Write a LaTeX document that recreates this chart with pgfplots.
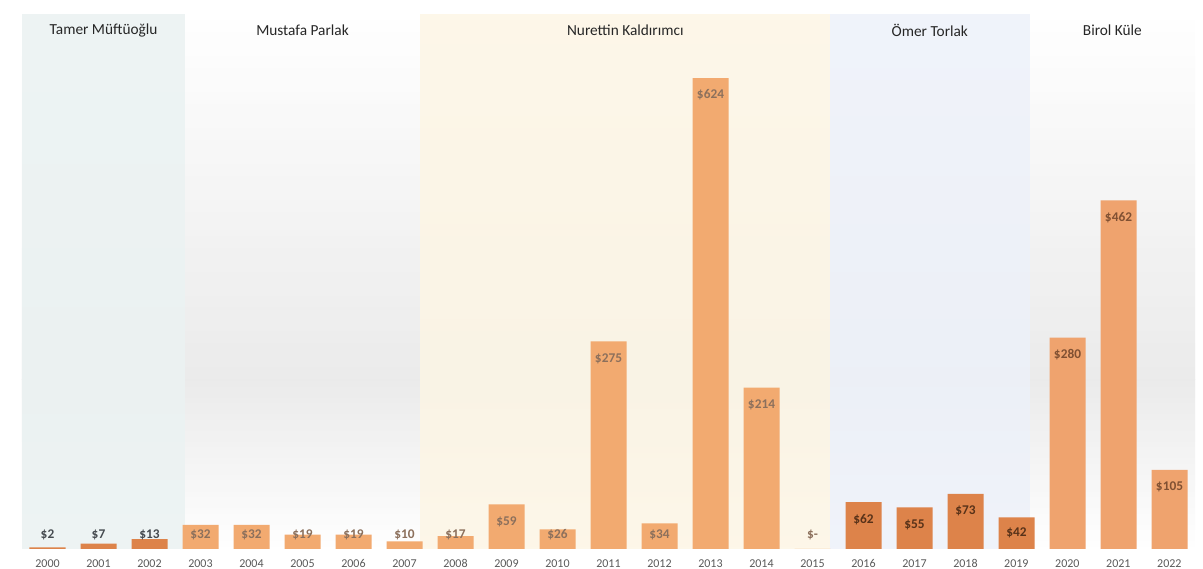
\documentclass[border=0pt]{standalone}
\usepackage{fontspec}
\setmainfont{Carlito}
\usepackage{pgfplots}
\pgfplotsset{compat=1.18}
\usepackage{pgfplotstable}

\definecolor{darkbar}{RGB}{221,131,74}
\definecolor{lightbar}{RGB}{242,170,112}
\definecolor{lightbarb}{RGB}{239,163,110}
\definecolor{labA}{RGB}{70,75,80}
\definecolor{labB}{RGB}{140,112,92}
\definecolor{labC}{RGB}{88,50,25}
\definecolor{labD}{RGB}{128,80,50}
\definecolor{titlec}{RGB}{38,38,38}
\definecolor{tickc}{RGB}{89,89,89}
\definecolor{bandteal}{RGB}{236,243,243}
\definecolor{bandcream}{RGB}{253,246,230}
\definecolor{bandblue}{RGB}{238,242,250}

% x = year, y = value, ly = label position, lbl = label text
\pgfplotstableread{
x y ly lbl
2000 2 18.5 2
2001 7 18.5 7
2002 13 18.5 13
}\tabA
\pgfplotstableread{
x y ly lbl
2003 32 18.5 32
2004 32 18.5 32
2005 19 18.5 19
2006 19 18.5 19
2007 10 18.5 10
2008 17 18.5 17
2009 59 36.5 59
2010 26 18.5 26
2011 275 252.5 275
2012 34 18.5 34
2013 624 601.5 624
2014 214 191.5 214
2015 0 18.5 -
}\tabB
\pgfplotstableread{
x y ly lbl
2016 62 39.5 62
2017 55 32.5 55
2018 73 50.5 73
2019 42 21 42
}\tabC
\pgfplotstableread{
x y ly lbl
2020 280 257.5 280
2021 462 439.5 462
2022 105 82.5 105
}\tabD

\begin{document}
\begin{tikzpicture}
\begin{axis}[
  name=ax,
  scale only axis,
  width=879.75pt, height=401.25pt,
  xmin=1999.5, xmax=2022.5,
  ymin=0, ymax=709,
  axis line style={draw=none},
  tick style={draw=none},
  ytick=\empty,
  xtick={2000,...,2022},
  typeset ticklabels with strut,
  /pgf/number format/assume math mode=true,
  /pgf/number format/1000 sep={},
  x tick label style={font=\fontsize{9}{10}\selectfont, text=tickc, yshift=-3.5pt},
  clip=false,
]
% background gradient
\fill[top color=white, bottom color=black!12, draw=none] (axis cs:1999.5,709) rectangle (axis cs:2022.5,224);
\fill[top color=black!12, bottom color=white, draw=none] (axis cs:1999.5,224) rectangle (axis cs:2022.5,0);
% bands
\fill[bandteal, opacity=0.92] (axis cs:1999.5,0) rectangle (axis cs:2002.7,709);
\fill[bandcream, opacity=0.88] (axis cs:2007.31,0) rectangle (axis cs:2015.34,709);
\fill[bandblue, opacity=0.88] (axis cs:2015.34,0) rectangle (axis cs:2019.26,709);
\fill[white, opacity=0.35] (axis cs:2002.7,0) rectangle (axis cs:2007.31,709);
\fill[white, opacity=0.35] (axis cs:2019.26,0) rectangle (axis cs:2022.5,709);
% titles
\node[font=\fontsize{11.5}{13}\selectfont, text=titlec] at (axis cs:2001.1,687) {Tamer Müftüoğlu};
\node[font=\fontsize{11.5}{13}\selectfont, text=titlec] at (axis cs:2005.0,687) {Mustafa Parlak};
\node[font=\fontsize{11.5}{13}\selectfont, text=titlec] at (axis cs:2011.33,687) {Nurettin Kaldırımcı};
\node[font=\fontsize{11.5}{13}\selectfont, text=titlec] at (axis cs:2017.3,687) {Ömer Torlak};
\node[font=\fontsize{11.5}{13}\selectfont, text=titlec] at (axis cs:2020.88,687) {Birol Küle};

% bars
\addplot[ybar, bar width=27pt, bar shift=0pt, fill=darkbar, draw=none] table[x=x,y=y]{\tabA};
\addplot[ybar, bar width=27pt, bar shift=0pt, fill=lightbar, draw=none] table[x=x,y=y]{\tabB};
\addplot[ybar, bar width=27pt, bar shift=0pt, fill=darkbar, draw=none] table[x=x,y=y]{\tabC};
\addplot[ybar, bar width=27pt, bar shift=0pt, fill=lightbarb, draw=none] table[x=x,y=y]{\tabD};

% labels
\pgfplotsset{lblstyle/.style={draw=none, mark=none,
  point meta=explicit symbolic,
  nodes near coords={\$\pgfplotspointmeta},
  nodes near coords align=center,
  every node near coord/.append style={font=\bfseries\fontsize{10}{12}\selectfont, text=#1, anchor=center}}}
\addplot[lblstyle=labA] table[x=x,y=ly,meta=lbl]{\tabA};
\addplot[lblstyle=labB] table[x=x,y=ly,meta=lbl]{\tabB};
\addplot[lblstyle=labC] table[x=x,y=ly,meta=lbl]{\tabC};
\addplot[lblstyle=labD] table[x=x,y=ly,meta=lbl]{\tabD};
\end{axis}
\pgfresetboundingbox
\path[use as bounding box] ([shift={(-16.5pt,-15pt)}]ax.south west) rectangle ([shift={(6pt,10.5pt)}]ax.north east);
\end{tikzpicture}
\end{document}
